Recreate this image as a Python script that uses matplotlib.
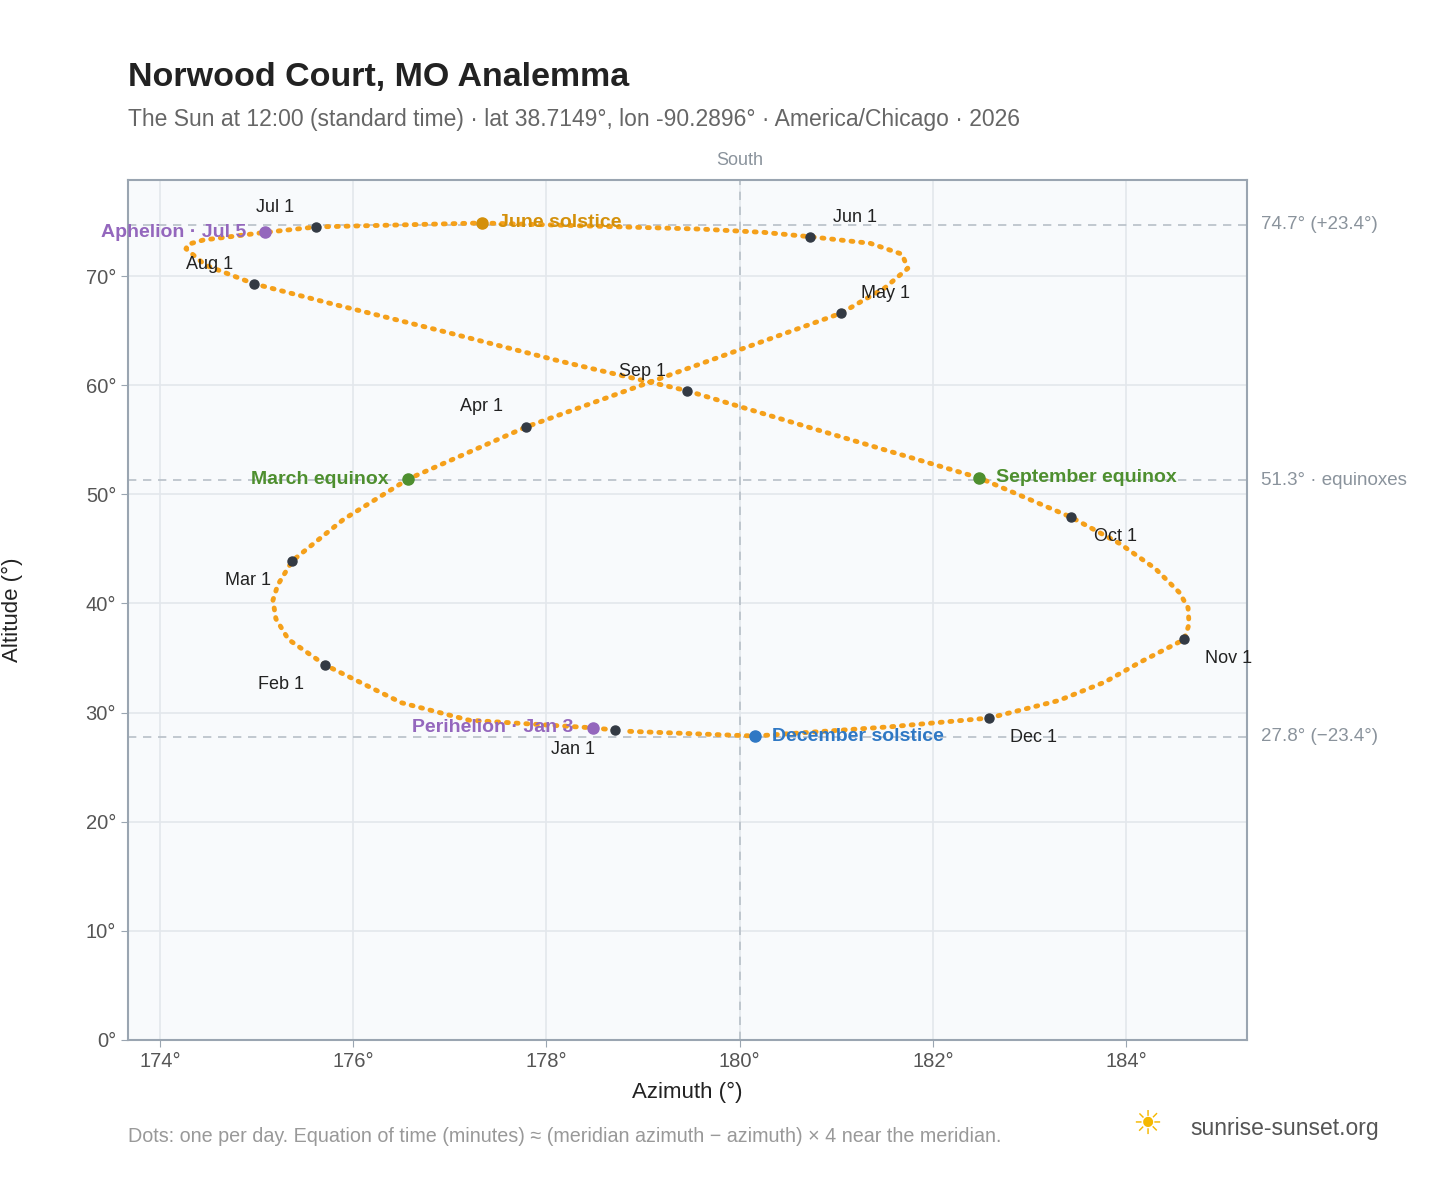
import matplotlib.pyplot as plt

plt.rcParams["font.family"] = ["Liberation Sans", "DejaVu Sans"]

# sun position (azimuth, altitude), in date order
dates = ["Jan 1", "Jan 3", "Jan 15", "Jan 22", "Feb 1", "Feb 7", "Feb 12", "Feb 18", "Feb 22",
         "Mar 1", "Mar 10", "Mar 20", "Apr 1", "Apr 15", "May 1", "May 8", "May 14", "May 20",
         "May 26", "Jun 1", "Jun 5", "Jun 10", "Jun 21", "Jul 1", "Jul 5", "Jul 15", "Jul 20",
         "Jul 24", "Jul 28", "Aug 1", "Aug 8", "Aug 15", "Aug 22", "Sep 1", "Sep 10", "Sep 22",
         "Oct 1", "Oct 8", "Oct 15", "Oct 22", "Oct 26", "Oct 29", "Nov 1", "Nov 8", "Nov 15",
         "Nov 22", "Dec 1", "Dec 10", "Dec 21", "Dec 31"]
azimuth = [178.71, 178.48, 177.2, 176.5, 175.71, 175.33, 175.2, 175.17, 175.22,
           175.37, 175.9, 176.57, 177.79, 179.39, 181.05, 181.5, 181.74, 181.68,
           181.35, 180.73, 180.25, 179.6, 177.33, 175.62, 175.09, 174.45, 174.29,
           174.27, 174.47, 174.97, 175.76, 176.9, 178.14, 179.45, 180.73, 182.48,
           183.43, 183.93, 184.3, 184.55, 184.64, 184.65, 184.6, 184.14, 183.78,
           183.3, 182.58, 181.56, 180.16, 178.8]
altitude = [28.4, 28.6, 29.3, 30.9, 34.36, 36.7, 38.6, 40.3, 41.7,
            43.9, 47.7, 51.4, 56.17, 61.3, 66.6, 68.9, 70.7, 72.0,
            73.0, 73.6, 74.0, 74.3, 74.86, 74.5, 74.0, 73.3, 72.9,
            72.5, 71.0, 69.3, 67.5, 65.0, 62.2, 59.5, 56.1, 51.5,
            47.9, 45.5, 43.2, 41.0, 39.6, 38.1, 36.7, 34.6, 32.8,
            31.1, 29.5, 28.7, 27.85, 28.3]

month_labels = ["Jan 1", "Feb 1", "Mar 1", "Apr 1", "May 1", "Jun 1",
                "Jul 1", "Aug 1", "Sep 1", "Oct 1", "Nov 1", "Dec 1"]
label_offsets = [(-30, -14), (-32, -14), (-32, -14), (-32, 15), (32, 14), (32, 14),
                 (-30, 14), (-32, 14), (-32, 14), (32, -14), (32, -14), (32, -14)]

events = ["Perihelion · Jan 3", "June solstice", "Aphelion · Jul 5",
          "March equinox", "September equinox", "December solstice"]
event_dates = ["Jan 3", "Jun 21", "Jul 5", "Mar 20", "Sep 22", "Dec 21"]
event_colors = ["#9467bd", "#d4900a", "#9467bd", "#4e8f2f", "#4e8f2f", "#2f78c4"]
event_side = ["left", "right", "left", "left", "right", "right"]

ref_alt = [74.7, 51.3, 27.8]
ref_text = ["74.7° (+23.4°)", "51.3° · equinoxes", "27.8° (−23.4°)"]

fig = plt.figure(figsize=(14.48, 11.88), dpi=100)
ax = fig.add_axes([0.0884, 0.1246, 0.7728, 0.7239])
ax.set_facecolor("#f8fafc")
ax.set_xlim(173.67, 185.25)
ax.set_ylim(0, 78.8)
ax.set_xticks([174, 176, 178, 180, 182, 184])
ax.set_xticklabels([f"{v}°" for v in [174, 176, 178, 180, 182, 184]])
ax.set_yticks(range(0, 80, 10))
ax.set_yticklabels([f"{v}°" for v in range(0, 80, 10)])
ax.grid(color="#e3e7ec", lw=1.2)
ax.set_axisbelow(True)
for s in ax.spines.values():
    s.set_color("#9aa5b1")
    s.set_linewidth(1.5)
ax.tick_params(colors="#555", labelsize=14.5, length=5, color="#9aa5b1")

for a in ref_alt:
    ax.axhline(a, color="#b8c0c8", ls=(0, (5, 4)), lw=1.2, zorder=1)
ax.axvline(180, color="#b8c0c8", ls=(0, (5, 4)), lw=1.2, zorder=1)

ax.plot(azimuth, altitude, color="#f5a01a", lw=3.5, ls=(0, (0.4, 1.6)),
        dash_capstyle="round", zorder=2)

for lab, (dx, dy) in zip(month_labels, label_offsets):
    i = dates.index(lab)
    ax.plot(azimuth[i], altitude[i], "o", color="#333a44", ms=6.5, zorder=4)
    ax.annotate(lab, (azimuth[i], altitude[i]), xytext=(dx, dy), textcoords="offset points",
                ha="center", va="center", fontsize=13, color="#222", zorder=5)

for ev, d, c, side in zip(events, event_dates, event_colors, event_side):
    i = dates.index(d)
    ax.plot(azimuth[i], altitude[i], "o", color=c, ms=8, zorder=4)
    dx = 12 if side == "right" else -14
    ax.annotate(ev, (azimuth[i], altitude[i]), xytext=(dx, 0), textcoords="offset points",
                ha="left" if side == "right" else "right", va="center", fontsize=14,
                color=c, fontweight="bold", zorder=5)

for a, t in zip(ref_alt, ref_text):
    ax.annotate(t, (1, a), xycoords=("axes fraction", "data"), xytext=(10, 0),
                textcoords="offset points", va="center", fontsize=13.5, color="#8a939c",
                annotation_clip=False)
ax.annotate("South", (180, 1), xycoords=("data", "axes fraction"), xytext=(0, 8),
            textcoords="offset points", ha="center", va="bottom", fontsize=13, color="#8a939c")

ax.set_xlabel("Azimuth (°)", fontsize=16, color="#222", labelpad=8)
ax.set_ylabel("Altitude (°)", fontsize=16, color="#222", labelpad=45)

fig.text(0.0884, 0.928, "Norwood Court, MO Analemma", fontsize=24.5, fontweight="bold", color="#222")
fig.text(0.0884, 0.894, "The Sun at 12:00 (standard time) · lat 38.7149°, lon -90.2896° · "
         "America/Chicago · 2026", fontsize=16.5, color="#666")
fig.text(0.0884, 0.039, "Dots: one per day. Equation of time (minutes) ≈ (meridian azimuth − "
         "azimuth) × 4 near the meridian.", fontsize=14.2, color="#999")
fig.text(0.822, 0.045, "sunrise-sunset.org", fontsize=16.5, color="#555")
fig.text(0.792, 0.045, "☀", fontsize=24, color="#f5b800", ha="center", family="DejaVu Sans")

fig.savefig("out.png", dpi=100)
